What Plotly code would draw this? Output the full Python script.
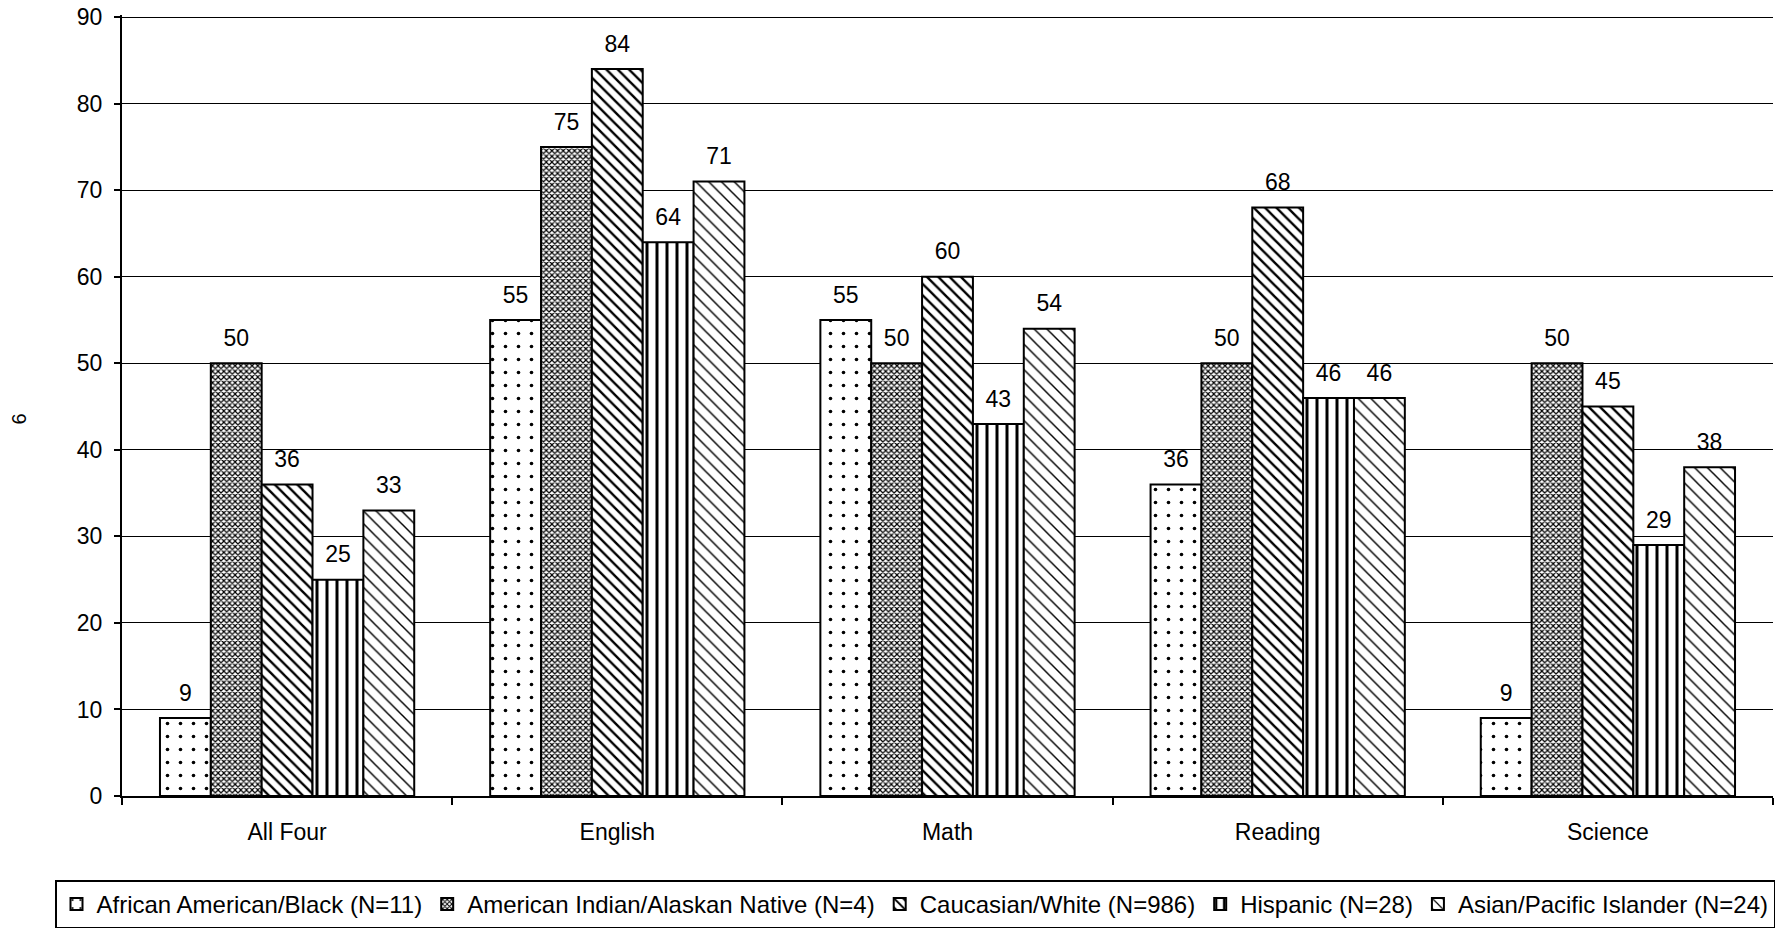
import plotly.graph_objects as go

categories = ["All Four", "English", "Math", "Reading", "Science"]
series_names = [
    "African American/Black (N=11)",
    "American Indian/Alaskan Native (N=4)",
    "Caucasian/White (N=986)",
    "Hispanic (N=28)",
    "Asian/Pacific Islander (N=24)",
]
african_american = [9, 55, 55, 36, 9]
american_indian = [50, 75, 50, 50, 50]
caucasian = [36, 84, 60, 68, 45]
hispanic = [25, 64, 43, 46, 29]
asian = [33, 71, 54, 46, 38]
series_values = [african_american, american_indian, caucasian, hispanic, asian]
y_ticks = [0, 10, 20, 30, 40, 50, 60, 70, 80, 90]

patterns = [
    dict(shape=".", size=13, solidity=0.06),
    dict(shape="x", size=4, solidity=0.5),
    dict(shape="\\", size=8, solidity=0.3),
    dict(shape="|", size=10, solidity=0.3),
    dict(shape="\\", size=9, solidity=0.16),
]

FONT = "Liberation Sans, Arial, sans-serif"
FS = 23

fig = go.Figure()
for name, vals, pat in zip(series_names, series_values, patterns):
    fig.add_trace(go.Bar(
        x=categories, y=vals, name=name,
        marker=dict(color="white", line=dict(color="black", width=2),
                    pattern=dict(fgcolor="black", bgcolor="white", fillmode="replace", **pat)),
    ))
for name, vals in zip(series_names, series_values):
    fig.add_trace(go.Scatter(
        x=categories, y=vals, name=name, mode="markers+text",
        text=[str(v) for v in vals], textposition="top center",
        textfont=dict(size=FS, color="black", family=FONT),
        marker=dict(size=17, opacity=0),
        showlegend=False, hoverinfo="skip", cliponaxis=False,
    ))

W, H = 1776, 932
L, T = 122, 15
plot_bottom = 801
plot_right = 1773
R, B = W - plot_right, H - plot_bottom
pw, ph = W - L - R, H - T - B

fig.update_layout(
    template="none",
    width=W, height=H,
    margin=dict(l=L, r=R, t=T, b=B, pad=0),
    barmode="group", bargap=0.23, bargroupgap=0,
    scattermode="group", scattergap=0.23,
    plot_bgcolor="white", paper_bgcolor="white",
    font=dict(family=FONT, color="black", size=FS),
    showlegend=True,
    legend=dict(
        orientation="h", x=(55 - L) / pw, xanchor="left",
        y=-(886 - 801) / ph, yanchor="top",
        bordercolor="black", borderwidth=1.5, bgcolor="white",
        font=dict(size=24, family=FONT, color="black"),
        itemwidth=30, tracegroupgap=0,
    ),
    xaxis=dict(
        showline=True, linecolor="black", linewidth=2,
        ticks="outside", tickson="boundaries", ticklen=7, tickcolor="black", tickwidth=1.5,
        tickfont=dict(size=FS, family=FONT, color="black"),
        ticklabelstandoff=14,
        showgrid=False, automargin=False,
    ),
    yaxis=dict(
        range=[0, 90.25], tickvals=y_ticks,
        showline=True, linecolor="black", linewidth=2,
        ticks="outside", ticklen=6, tickcolor="black", tickwidth=1.5,
        tickfont=dict(size=FS, family=FONT, color="black"),
        ticklabelstandoff=7, ticklabeloverflow="allow",
        showgrid=True, gridcolor="black", gridwidth=1,
        zeroline=False, automargin=False,
    ),
    annotations=[dict(
        text="6", textangle=-90, xref="paper", yref="paper",
        x=(19 - L) / pw, y=(801 - 422) / ph, showarrow=False,
        font=dict(size=20, family=FONT, color="black"),
        xanchor="center", yanchor="middle",
    )],
)

fig.write_html("out.html", config={"displayModeBar": False},
               post_script="document.body.style.margin='0';")
